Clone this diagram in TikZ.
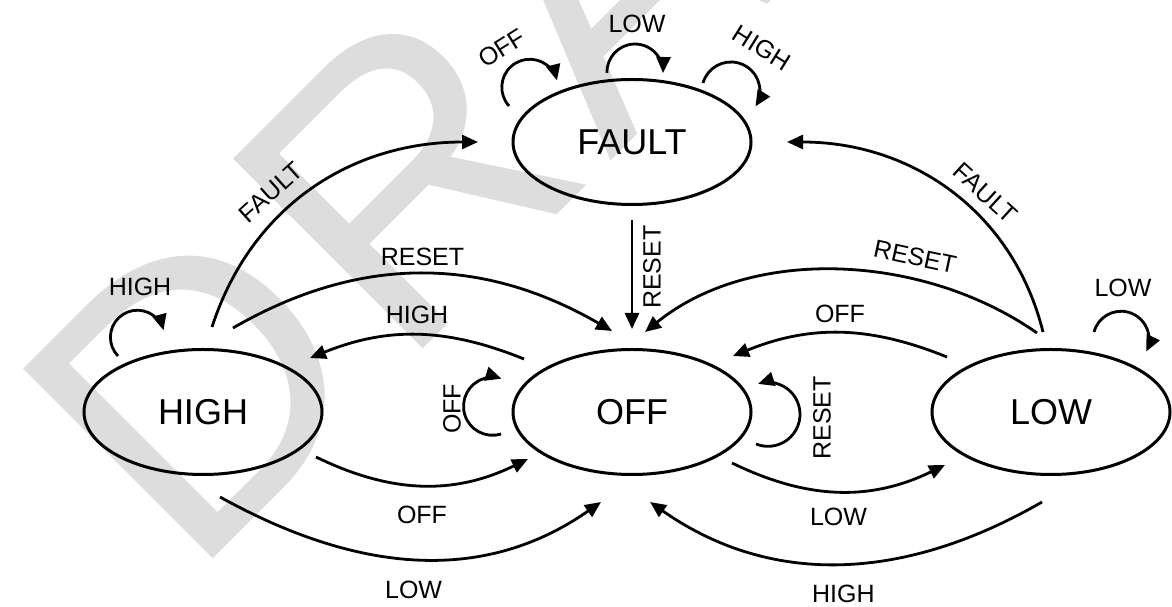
\documentclass[tikz,border=0pt]{standalone}
\usepackage{fontspec}
\setmainfont{Liberation Sans}
\usetikzlibrary{arrows.meta,shapes.geometric}
\definecolor{smGrey}{RGB}{221,221,221}

\begin{document}
\begin{tikzpicture}[
  x=1pt,y=1pt,
  >={Triangle[length=16pt,width=14pt]},
  state/.style={ellipse,draw,line width=3pt,minimum width=238pt,
                minimum height=125pt,inner sep=0pt,
                font=\fontsize{36}{40}\selectfont},
  edge/.style={->,line width=2.8pt},
  lbl/.style={font=\fontsize{25}{30}\selectfont,inner sep=0pt},
  wm/.style={text=smGrey,inner sep=0pt,anchor=base west,rotate=45,
             font=\fontsize{390}{390}\selectfont\addfontfeatures{LetterSpace=4}}
]
\useasboundingbox (0,0) rectangle (1172,607);
\begin{scope}
  \clip (0,0) rectangle (1172,607);
  \node[wm] (draft) at (190,25) {DRAFT};
\end{scope}

\node[state] (FAULT) at (632,465) {FAULT};
\node[state] (HIGH)  at (203,195) {HIGH};
\node[state] (OFF)   at (632,195) {OFF};
\node[state] (LOW)   at (1051,195) {LOW};

\draw[edge] ([shift={(9,85)}]HIGH.center) to[out=72,in=180]
  node[lbl,pos=0.4,sloped,above=13pt] {FAULT} ([shift={(-154,0)}]FAULT.center);
\draw[edge] ([shift={(30,84)}]HIGH.center) to[out=30,in=150]
  node[lbl,above=7pt] {RESET} ([shift={(-20,81)}]OFF.center);
\draw[edge] ([shift={(-108,53)}]OFF.center) to[out=158,in=22]
  node[lbl,above=10pt] {HIGH} ([shift={(107,54)}]HIGH.center);
\draw[edge] ([shift={(113,-45)}]HIGH.center) to[out=-26,in=206]
  node[lbl,below=19pt] {OFF} ([shift={(-104,-47)}]OFF.center);
\draw[edge] ([shift={(17,-85)}]HIGH.center) to[out=-29,in=215]
  node[lbl,below=21pt] {LOW} ([shift={(-31,-90)}]OFF.center);
\draw[edge] ([shift={(-8,80)}]LOW.center) to[out=104,in=0]
  node[lbl,pos=0.42,sloped,above=11pt] {FAULT} ([shift={(155,0)}]FAULT.center);
\draw[edge] ([shift={(-14,79)}]LOW.center) to[out=145,in=39,looseness=0.9]
  node[lbl,pos=0.33,sloped,above=12pt] {RESET} ([shift={(13,80)}]OFF.center);
\draw[edge] ([shift={(-104,55)}]LOW.center) to[out=158,in=22]
  node[lbl,above=9pt] {OFF} ([shift={(101,56)}]OFF.center);
\draw[edge] ([shift={(100,-51)}]OFF.center) to[out=-26,in=206]
  node[lbl,below=15pt] {LOW} ([shift={(-106,-53)}]LOW.center);
\draw[edge] ([shift={(-9,-90)}]LOW.center) to[out=210,in=-35]
  node[lbl,below=20pt] {HIGH} ([shift={(18,-90)}]OFF.center);
\draw[edge,shorten <=14pt,shorten >=19pt] (FAULT.south) --
  node[lbl,pos=0.43,xshift=20pt,rotate=90] {RESET} (OFF.north);

\draw[edge] ([shift={(-123,36)}]FAULT.center) arc[start angle=222,end angle=14,radius=28];
\draw[edge] ([shift={(-25,69)}]FAULT.center) arc[start angle=182,end angle=-2,radius=28];
\draw[edge] ([shift={(71,59)}]FAULT.center) arc[start angle=164,end angle=-32,radius=29];
\draw[edge] ([shift={(-85,56)}]HIGH.center) arc[start angle=224,end angle=15,radius=27];
\draw[edge] ([shift={(43,80)}]LOW.center) arc[start angle=165,end angle=-26,radius=28];
\draw[edge] ([shift={(-131,-22)}]OFF.center) arc[start angle=-73,end angle=-288,radius=29];
\draw[edge] ([shift={(124,-32)}]OFF.center) arc[start angle=-112,end angle=108,radius=32];

\node[lbl,rotate=32]  (lFaultOff)  at (502,559) {OFF};
\node[lbl]            (lFaultLow)  at (637,583) {LOW};
\node[lbl,rotate=-32] (lFaultHigh) at (762,559) {HIGH};
\node[lbl]            (lHighHigh)  at (140,320) {HIGH};
\node[lbl]            (lLowLow)    at (1123,319) {LOW};
\node[lbl,rotate=90]  (lOffOff)    at (452,198) {OFF};
\node[lbl,rotate=90]  (lOffReset)  at (822,189) {RESET};
\end{tikzpicture}
\end{document}
